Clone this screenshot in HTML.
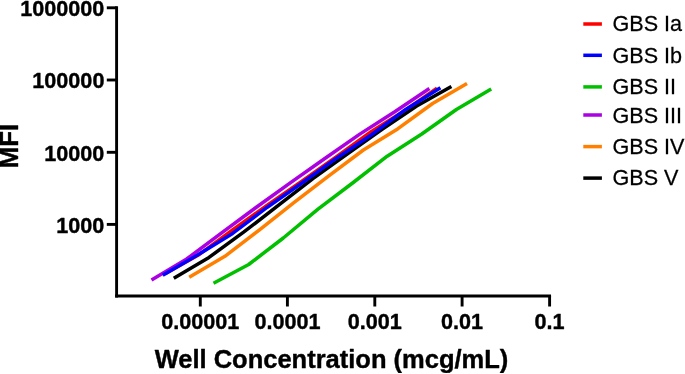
<!DOCTYPE html>
<html><head><meta charset="utf-8"><title>chart</title>
<style>html,body{margin:0;padding:0;background:#fff;}svg{display:block;}text{filter:grayscale(1);}text{font-family:"Liberation Sans",sans-serif;fill:#000;}</style></head><body>
<svg width="685" height="374" viewBox="0 0 685 374">
<rect width="685" height="374" fill="#ffffff"/>
<g>
<polyline points="165.5,273.5 198.0,255.3 232.6,230.0 267.3,205.1 301.9,181.1 336.5,156.7 371.1,131.7 405.7,110.0 437.0,88.1" fill="none" stroke="#ff0000" stroke-width="3.5" stroke-linejoin="round" stroke-linecap="butt"/>
<polyline points="213.5,283.2 248.7,264.5 283.3,238.0 318.0,209.2 352.6,183.0 387.2,156.2 421.8,134.0 456.4,109.5 491.2,89.0" fill="none" stroke="#00c000" stroke-width="3.5" stroke-linejoin="round" stroke-linecap="butt"/>
<polyline points="151.5,280.0 186.7,259.0 221.3,233.2 256.0,207.5 290.6,182.7 325.2,158.3 359.8,134.1 394.4,112.0 429.4,88.5" fill="none" stroke="#aa00e2" stroke-width="3.5" stroke-linejoin="round" stroke-linecap="butt"/>
<polyline points="189.2,277.3 224.9,256.3 259.5,229.8 294.2,202.4 328.8,175.9 363.4,150.0 398.0,128.7 432.6,103.5 467.0,83.4" fill="none" stroke="#ff8000" stroke-width="3.5" stroke-linejoin="round" stroke-linecap="butt"/>
<polyline points="173.8,278.3 209.0,257.4 243.6,232.2 278.3,205.4 312.9,178.6 347.5,153.8 382.1,129.4 416.7,106.1 451.4,86.5" fill="none" stroke="#000000" stroke-width="3.5" stroke-linejoin="round" stroke-linecap="butt"/>
<polyline points="162.8,275.2 198.0,254.8 232.6,233.4 267.3,207.2 301.9,183.0 336.5,158.2 371.1,135.0 405.7,109.4 440.4,87.8" fill="none" stroke="#0000ff" stroke-width="3.5" stroke-linejoin="round" stroke-linecap="butt"/>
</g>
<g stroke="#000" stroke-width="2.9" fill="none" stroke-linecap="butt">
<path d="M116.6,6.35 V297.45"/>
<path d="M115.15,296.0 H551.05"/>
<path d="M106.80,7.8 H116.6"/>
<path d="M106.80,80.0 H116.6"/>
<path d="M106.80,152.3 H116.6"/>
<path d="M106.80,224.4 H116.6"/>
<path d="M200.3,296.0 V306.50"/>
<path d="M287.4,296.0 V306.50"/>
<path d="M374.8,296.0 V306.50"/>
<path d="M462.1,296.0 V306.50"/>
<path d="M549.6,296.0 V306.50"/>
</g>
<g class="t" font-weight="bold" font-size="21.6" stroke="#000" stroke-width="0.4" stroke-linejoin="round">
<text x="104.4" y="16.1" text-anchor="end">1000000</text>
<text x="104.4" y="88.3" text-anchor="end">100000</text>
<text x="104.4" y="160.6" text-anchor="end">10000</text>
<text x="104.4" y="232.7" text-anchor="end">1000</text>
<text x="200.3" y="328.8" text-anchor="middle">0.00001</text>
<text x="287.4" y="328.8" text-anchor="middle">0.0001</text>
<text x="374.8" y="328.8" text-anchor="middle">0.001</text>
<text x="462.1" y="328.8" text-anchor="middle">0.01</text>
<text x="549.6" y="328.8" text-anchor="middle">0.1</text>
</g>
<text x="331.5" y="367.5" text-anchor="middle" font-weight="bold" font-size="25.5" stroke="#000" stroke-width="0.4" stroke-linejoin="round">Well Concentration (mcg/mL)</text>
<text transform="translate(18.3,146.1) rotate(-90)" text-anchor="middle" font-weight="bold" font-size="25.8" stroke="#000" stroke-width="0.4" stroke-linejoin="round">MFI</text>
<g font-size="21.6" stroke="#000" stroke-width="0.25">
<path d="M583.3,24.0 H601.9" stroke="#ff0000" stroke-width="3.5" fill="none"/>
<text transform="translate(612.5,31.4) scale(1,1.04)">GBS Ia</text>
<path d="M583.3,55.3 H601.9" stroke="#0000ff" stroke-width="3.5" fill="none"/>
<text transform="translate(612.5,62.8) scale(1,1.04)">GBS Ib</text>
<path d="M583.3,86.9 H601.9" stroke="#00c000" stroke-width="3.5" fill="none"/>
<text transform="translate(612.5,94.3) scale(1,1.04)">GBS II</text>
<path d="M583.3,115.0 H601.9" stroke="#aa00e2" stroke-width="3.5" fill="none"/>
<text transform="translate(612.5,122.7) scale(1,1.04)">GBS III</text>
<path d="M583.3,146.6 H601.9" stroke="#ff8000" stroke-width="3.5" fill="none"/>
<text transform="translate(612.5,154.1) scale(1,1.04)">GBS IV</text>
<path d="M583.3,178.1 H601.9" stroke="#000000" stroke-width="3.5" fill="none"/>
<text transform="translate(612.5,185.3) scale(1,1.04)">GBS V</text>
</g>
</svg></body></html>
